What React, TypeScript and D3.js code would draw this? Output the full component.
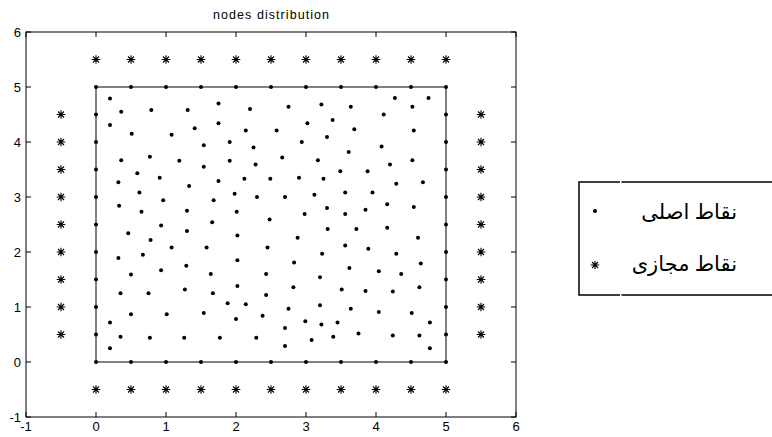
import React from 'react';
import * as d3 from 'd3';

// values
const xTicks = [-1, 0, 1, 2, 3, 4, 5, 6];
const yTicks = [-1, 0, 1, 2, 3, 4, 5, 6];
const edgeSteps = [0, 0.5, 1, 1.5, 2, 2.5, 3, 3.5, 4, 4.5, 5];
const ghostSideSteps = [0.5, 1, 1.5, 2, 2.5, 3, 3.5, 4, 4.5];
const innerPoints: [number, number][] = [
  [0.2, 4.79], [0.36, 4.55], [0.79, 4.58], [1.31, 4.58], [0.2, 4.31], [0.51, 4.15],
  [1.08, 4.13], [1.41, 4.25], [1.54, 3.94], [0.36, 3.67], [0.77, 3.73], [1.19, 3.66],
  [1.54, 3.55], [0.59, 3.43], [0.91, 3.35], [0.32, 3.27], [1.33, 3.2], [0.62, 3.08],
  [0.96, 2.94], [1.68, 2.94], [0.33, 2.84], [0.65, 2.73], [1.3, 2.75], [1.66, 2.54],
  [1.75, 4.7], [2.2, 4.6], [2.75, 4.64], [3.22, 4.68], [1.75, 4.34], [2.14, 4.21],
  [2.58, 4.21], [3.02, 4.34], [3.3, 4.09], [1.91, 4.0], [2.25, 3.9], [2.94, 4.0],
  [1.91, 3.66], [2.28, 3.59], [2.66, 3.72], [3.17, 3.67], [1.75, 3.29], [2.12, 3.33],
  [2.49, 3.33], [2.9, 3.35], [3.25, 3.33], [1.98, 3.06], [2.3, 3.0], [2.7, 3.0],
  [3.12, 3.04], [2.01, 2.73], [2.48, 2.59], [2.98, 2.69], [3.3, 2.8],
  [4.27, 4.8], [4.75, 4.8], [3.64, 4.64], [4.52, 4.64], [4.11, 4.5], [3.38, 4.4],
  [3.69, 4.23], [4.54, 4.21], [4.08, 3.92], [3.61, 3.82], [4.52, 3.67], [4.2, 3.59],
  [3.49, 3.47], [3.88, 3.47], [4.29, 3.24], [4.67, 3.27], [3.56, 3.08], [3.95, 3.08],
  [3.56, 2.69], [3.85, 2.77], [4.16, 2.87], [4.54, 2.82],
  [0.93, 2.48], [0.46, 2.34], [1.3, 2.38], [0.78, 2.22], [1.08, 2.08], [1.58, 2.08],
  [0.32, 1.89], [0.67, 1.95], [0.93, 1.67], [1.29, 1.75], [0.5, 1.59], [1.64, 1.6],
  [0.35, 1.25], [0.75, 1.25], [1.27, 1.32], [1.67, 1.25], [0.5, 0.87], [1.01, 0.87],
  [1.54, 0.89], [0.2, 0.72], [0.35, 0.46], [0.77, 0.44], [1.26, 0.44], [0.2, 0.25],
  [3.31, 2.42], [2.02, 2.3], [2.88, 2.26], [2.45, 2.08], [3.23, 1.97], [2.02, 1.85],
  [2.83, 1.81], [2.43, 1.6], [3.2, 1.54], [2.02, 1.38], [2.82, 1.36], [2.43, 1.22],
  [1.88, 1.07], [2.14, 1.05], [2.75, 0.97], [3.2, 1.03], [2.0, 0.78], [2.38, 0.84],
  [2.99, 0.74], [3.22, 0.68], [2.7, 0.62], [1.77, 0.44], [2.29, 0.44], [3.08, 0.4],
  [2.7, 0.29],
  [3.72, 2.42], [4.16, 2.44], [4.6, 2.26], [3.56, 2.12], [3.89, 2.06], [4.29, 1.97],
  [4.64, 1.79], [3.62, 1.71], [4.04, 1.65], [4.36, 1.6], [3.51, 1.32], [3.85, 1.29],
  [4.24, 1.28], [4.62, 1.36], [3.64, 0.97], [4.04, 0.91], [4.51, 0.89], [3.45, 0.72],
  [4.77, 0.72], [3.39, 0.46], [3.75, 0.52], [4.24, 0.48], [4.62, 0.48], [4.77, 0.25],
];
const legendLabels = ['نقاط اصلی', 'نقاط مجازی'];

const W = 772, H = 437;
const margin = { left: 26, right: 256, top: 32, bottom: 20 };

export default function App() {
  const x = d3.scaleLinear().domain([-1, 6]).range([margin.left, W - margin.right]);
  const y = d3.scaleLinear().domain([-1, 6]).range([H - margin.bottom, margin.top]);

  const lo = edgeSteps[0], hi = edgeSteps[edgeSteps.length - 1];
  // real points on the square border
  const borderPts: [number, number][] = [];
  edgeSteps.forEach(s => { borderPts.push([s, lo], [s, hi]); });
  ghostSideSteps.forEach(s => { borderPts.push([lo, s], [hi, s]); });
  // virtual points outside the square
  const ghostPts: [number, number][] = [];
  edgeSteps.forEach(s => { ghostPts.push([s, lo - 0.5], [s, hi + 0.5]); });
  ghostSideSteps.forEach(s => { ghostPts.push([lo - 0.5, s], [hi + 0.5, s]); });

  const star = (cx: number, cy: number, r = 4.3) => {
    const d = r * 0.7;
    return `M${cx - r},${cy}H${cx + r}M${cx},${cy - r}V${cy + r}` +
      `M${cx - d},${cy - d}L${cx + d},${cy + d}M${cx - d},${cy + d}L${cx + d},${cy - d}`;
  };

  const x0 = x(-1), x1 = x(6), y0 = y(-1), y1 = y(6);
  const tickLen = 5;
  const sqPath = `M${x(lo)},${y(lo)}H${x(hi)}V${y(hi)}H${x(lo)}Z`;

  const legX = 579, legY = 182, legH = 113;

  return (
    <svg width={W} height={H} style={{ position: 'absolute', left: 0, top: 0, background: '#fff' }}
      fontFamily="'Liberation Sans', Arial, sans-serif">
      <rect width={W} height={H} fill="#fff" />
      <text x={(x0 + x1) / 2} y={19} textAnchor="middle" fontSize={12.5}
        textLength={116} lengthAdjust="spacing">nodes distribution</text>

      {/* axes box */}
      <rect x={x0} y={y1} width={x1 - x0} height={y0 - y1} fill="none" stroke="#000" strokeWidth={1} />
      {xTicks.map(t => (
        <g key={'x' + t}>
          <line x1={x(t)} x2={x(t)} y1={y0} y2={y0 - tickLen} stroke="#000" />
          <line x1={x(t)} x2={x(t)} y1={y1} y2={y1 + tickLen} stroke="#000" />
          <text x={x(t)} y={y0 + 14} textAnchor="middle" fontSize={13}>{t}</text>
        </g>
      ))}
      {yTicks.map(t => (
        <g key={'y' + t}>
          <line x1={x0} x2={x0 + tickLen} y1={y(t)} y2={y(t)} stroke="#000" />
          <line x1={x1} x2={x1 - tickLen} y1={y(t)} y2={y(t)} stroke="#000" />
          <text x={x0 - 5} y={y(t) + 4.5} textAnchor="end" fontSize={13}>{t}</text>
        </g>
      ))}

      {/* square */}
      <path d={sqPath} fill="none" stroke="#000" strokeWidth={1} />

      {borderPts.concat(innerPoints).map((p, i) => (
        <circle key={'p' + i} cx={x(p[0])} cy={y(p[1])} r={2} fill="#000" />
      ))}
      {ghostPts.map((p, i) => (
        <path key={'g' + i} d={star(x(p[0]), y(p[1]))} stroke="#000" strokeWidth={1.1} fill="none" />
      ))}

      {/* legend */}
      <rect x={legX} y={legY} width={W} height={legH} fill="#fff" stroke="#000" strokeWidth={1.5} />
      <line x1={620} x2={621.5} y1={legY} y2={legY} stroke="#fff" strokeWidth={2} />
      <line x1={620} x2={621.5} y1={legY + legH} y2={legY + legH} stroke="#fff" strokeWidth={2} />
      <circle cx={595} cy={211} r={2} fill="#000" />
      <path d={star(595, 265)} stroke="#000" strokeWidth={1.1} fill="none" />
      {legendLabels.map((l, i) => (
        <text key={l} x={737} y={219 + i * 52} textAnchor="end" fontSize={21}
          fontFamily="'Times New Roman', 'Liberation Serif', 'DejaVu Sans', serif">{l}</text>
      ))}
    </svg>
  );
}
